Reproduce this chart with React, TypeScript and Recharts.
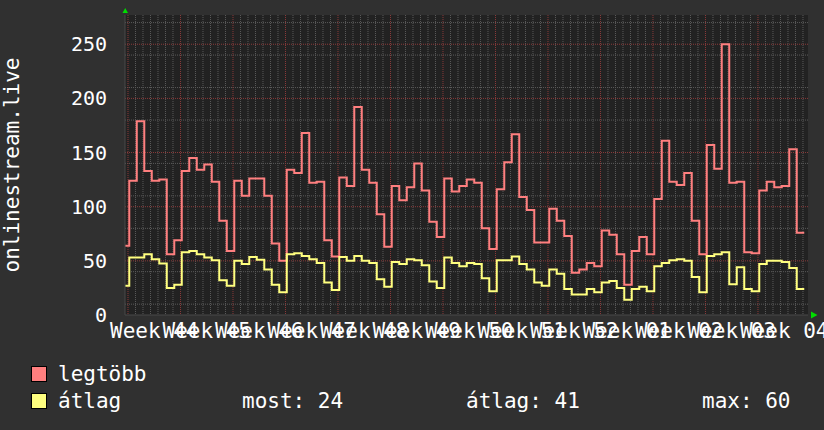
import React from 'react';
import { LineChart, Line, XAxis, YAxis, CartesianGrid } from 'recharts';

const WEEK_LABELS = [
  'Week 44', 'Week 45', 'Week 46', 'Week 47', 'Week 48', 'Week 49', 'Week 50',
  'Week 51', 'Week 52', 'Week 01', 'Week 02', 'Week 03', 'Week 04',
];

// daily values, first one is the partial day before the first week line
const MAX_VALUES = [
  64, 124, 179, 133, 124, 125, 56, 69, 133, 145, 134, 139, 123, 87, 59,
  124, 110, 126, 126, 110, 66, 50, 134, 131, 168, 122, 123, 69, 54, 127,
  119, 192, 134, 122, 93, 63, 119, 106, 118, 140, 115, 86, 72, 126, 114,
  119, 125, 122, 80, 61, 116, 141, 167, 109, 97, 67, 67, 98, 87, 73,
  39, 42, 48, 45, 78, 74, 56, 28, 59, 72, 56, 107, 161, 123, 120,
  131, 87, 56, 157, 135, 250, 122, 123, 58, 57, 115, 123, 118, 119, 153,
  76,
];

const AVG_VALUES = [
  27, 53, 53, 56, 51.5, 47.5, 25, 28, 58, 59, 56, 53, 50.5, 32, 27,
  50, 47, 53.6, 51, 42, 28, 21, 56, 57, 54.5, 51.5, 48, 30, 23, 53.6,
  50, 54.5, 50, 48, 33, 26, 49, 47, 51.5, 50.5, 46, 31, 25, 53, 48,
  45, 48, 47, 34, 22, 50.5, 50.5, 54, 47, 42, 30, 27, 42, 38, 24,
  19, 19, 24, 21, 30, 31.5, 25, 14, 24, 26, 22, 45, 48, 50.5, 51.5,
  50, 35, 21, 54.5, 56, 58, 28.5, 44, 24, 22, 47, 50, 50, 49, 43.5,
  24,
];

const Y_TICKS = [0, 50, 100, 150, 200, 250];
const STATS = [
  { label: 'most', value: 24 },
  { label: 'átlag', value: 41 },
  { label: 'max', value: 60 },
];

const FONT = '"DejaVu Sans Mono", monospace';
const SAMPLE_OFFSET = 0.17; // samples start a few hours after monday 00:00
const X_DOMAIN: [number, number] = [-0.4, 90.67];
const Y_MAX = 277;

const data = MAX_VALUES.map((v, i) => ({
  day: i - 1 + SAMPLE_OFFSET,
  max: v,
  avg: AVG_VALUES[i],
}));
// close the last step
data.push({
  day: MAX_VALUES.length - 1 + SAMPLE_OFFSET,
  max: MAX_VALUES[MAX_VALUES.length - 1],
  avg: AVG_VALUES[AVG_VALUES.length - 1],
});

const weekStarts = WEEK_LABELS.map((_, i) => i * 7);
const labelDays = weekStarts.map((d) => d + 3.5);
const dayLines = Array.from({ length: 91 }, (_, i) => i).filter((d) => d % 7 !== 0);
const minorY = Array.from({ length: 27 }, (_, i) => (i + 1) * 10).filter((v) => v % 50 !== 0);
const majorY = Y_TICKS.filter((v) => v > 0);

const RED = '#ff7f7f';
const YELLOW = '#ffff7f';

export default function App() {
  return (
    <div
      style={{
        position: 'absolute',
        left: 0,
        top: 0,
        width: 824,
        height: 430,
        background: '#303030',
        fontFamily: FONT,
      }}
    >
      <LineChart
        width={824}
        height={350}
        data={data}
        margin={{ top: 15, right: 16, bottom: 0, left: 0 }}
      >
        <CartesianGrid
          fill="#222222"
          stroke="#5a5a5a"
          strokeDasharray="1 1"
          verticalValues={dayLines}
          horizontalValues={minorY}
        />
        <CartesianGrid
          stroke="#8a3a3a"
          strokeDasharray="1 1"
          verticalValues={weekStarts}
          horizontalValues={majorY}
        />
        <XAxis
          dataKey="day"
          type="number"
          domain={X_DOMAIN}
          allowDataOverflow
          ticks={labelDays}
          interval={0}
          tickFormatter={(_v, i) => WEEK_LABELS[i]}
          height={35}
          tickLine={false}
          tickSize={0}
          tickMargin={8}
          axisLine={{ stroke: '#484848' }}
          tick={{ fill: '#ffffff', fontSize: 21, fontFamily: FONT }}
        />
        <YAxis
          type="number"
          domain={[0, Y_MAX]}
          allowDataOverflow
          ticks={Y_TICKS}
          width={125}
          tickLine={false}
          tickSize={0}
          tickMargin={18}
          axisLine={{ stroke: '#484848' }}
          tick={{ fill: '#ffffff', fontSize: 20, fontFamily: FONT }}
        />
        <Line
          type="stepAfter"
          dataKey="max"
          stroke={RED}
          strokeWidth={2}
          dot={false}
          isAnimationActive={false}
        />
        <Line
          type="stepAfter"
          dataKey="avg"
          stroke={YELLOW}
          strokeWidth={2}
          dot={false}
          isAnimationActive={false}
        />
      </LineChart>

      <svg
        width={824}
        height={430}
        style={{ position: 'absolute', left: 0, top: 0, pointerEvents: 'none' }}
      >
        <text
          transform="translate(19,165) rotate(-90)"
          textAnchor="middle"
          fill="#ffffff"
          fontSize={21}
          fontFamily={FONT}
        >
          onlinestream.live
        </text>
        <polygon points="122.5,13 128,13 125.2,8" fill="#00dd00" />
        <polygon points="811,311.5 811,318.5 817.5,315" fill="#00dd00" />

        <rect x={31.5} y={366.5} width={15} height={15} fill={RED} stroke="#000" />
        <text x={58} y={381} fill="#fff" fontSize={21} fontFamily={FONT}>
          legtöbb
        </text>
        <rect x={31.5} y={393.5} width={15} height={15} fill={YELLOW} stroke="#000" />
        <text x={58} y={408} fill="#fff" fontSize={21} fontFamily={FONT}>
          átlag
        </text>
        {STATS.map((s, i) => (
          <text
            key={s.label}
            x={[242, 466, 702][i]}
            y={408}
            fill="#fff"
            fontSize={21}
            fontFamily={FONT}
          >
            {`${s.label}: ${s.value}`}
          </text>
        ))}
      </svg>
    </div>
  );
}
